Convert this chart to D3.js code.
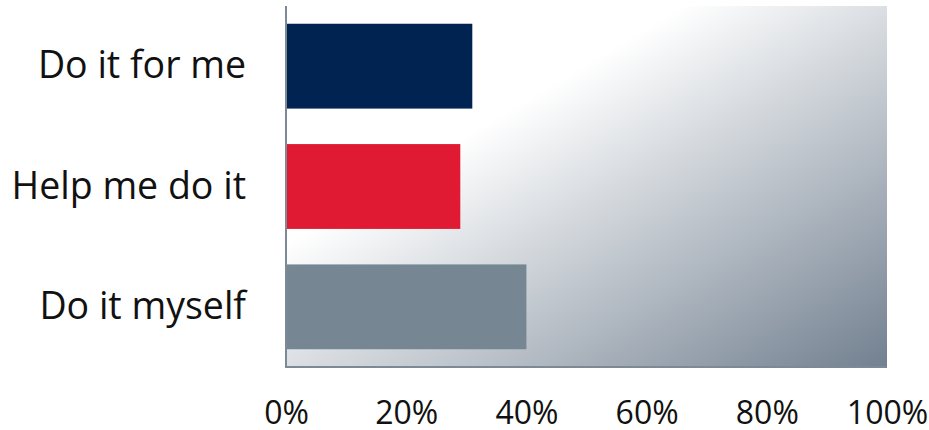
<!DOCTYPE html>
<html>
<head>
<meta charset="utf-8">
<script src="https://cdn.jsdelivr.net/npm/d3@7"></script>
<style>
  html, body { margin: 0; padding: 0; background: #fff; }
  svg { display: block; font-family: "Open Sans", "Noto Sans", sans-serif; }
</style>
</head>
<body>
<svg id="chart" width="929" height="430"></svg>
<script>
const categories = ["Do it for me", "Help me do it", "Do it myself"];
const values = [31, 29, 40];
const barColors = ["#002352", "#e01a33", "#768693"];
const tickValues = [0, 20, 40, 60, 80, 100];

const W = 929, H = 430;
const margin = { left: 286, right: 42, top: 6, bottom: 63 };
const svg = d3.select("#chart");

const x = d3.scaleLinear().domain([0, 100]).range([margin.left, W - margin.right]);
const y = d3.scaleBand().domain(categories).range([margin.top, H - margin.bottom])
  .paddingInner(0.295).paddingOuter(0.1475);

const defs = svg.append("defs");
const grad = defs.append("linearGradient").attr("id", "bg")
  .attr("x1", 0).attr("y1", 0).attr("x2", 1).attr("y2", 1);
grad.append("stop").attr("offset", 0).attr("stop-color", "#ffffff");
grad.append("stop").attr("offset", 0.33).attr("stop-color", "#ffffff");
grad.append("stop").attr("offset", 1).attr("stop-color", "#728090");

svg.append("rect")
  .attr("x", x(0)).attr("y", margin.top)
  .attr("width", x(100) - x(0)).attr("height", H - margin.bottom - margin.top)
  .attr("fill", "url(#bg)");

svg.selectAll("rect.bar").data(categories).enter().append("rect")
  .attr("class", "bar")
  .attr("x", x(0))
  .attr("y", d => y(d))
  .attr("width", (d, i) => x(values[i]) - x(0))
  .attr("height", y.bandwidth())
  .attr("fill", (d, i) => barColors[i]);

// axis lines
svg.append("line")
  .attr("x1", x(0)).attr("x2", x(0))
  .attr("y1", margin.top).attr("y2", H - margin.bottom + 1)
  .attr("stroke", "#7d8a96").attr("stroke-width", 2);
svg.append("line")
  .attr("x1", x(0) - 1).attr("x2", x(100))
  .attr("y1", H - margin.bottom).attr("y2", H - margin.bottom)
  .attr("stroke", "#7d8a96").attr("stroke-width", 2);

// x axis labels
const xAxis = d3.axisBottom(x).tickValues(tickValues).tickFormat(d => d + "%").tickSize(0).tickPadding(0);
const gx = svg.append("g").attr("transform", `translate(0,${H - margin.bottom})`).call(xAxis);
gx.select(".domain").remove();
gx.selectAll("text")
  .attr("dy", null).attr("y", 57)
  .style("font-family", '"Open Sans", "Noto Sans", sans-serif')
  .style("font-size", "32px").attr("fill", "#111");

// y axis labels
const yAxis = d3.axisLeft(y).tickSize(0).tickPadding(0);
const gy = svg.append("g").attr("transform", `translate(${margin.left - 40},0)`).call(yAxis);
gy.select(".domain").remove();
gy.selectAll("text")
  .attr("dy", "0.32em")
  .style("font-family", '"Open Sans", "Noto Sans", sans-serif')
  .style("font-size", "37.5px").attr("fill", "#111");
</script>
</body>
</html>
